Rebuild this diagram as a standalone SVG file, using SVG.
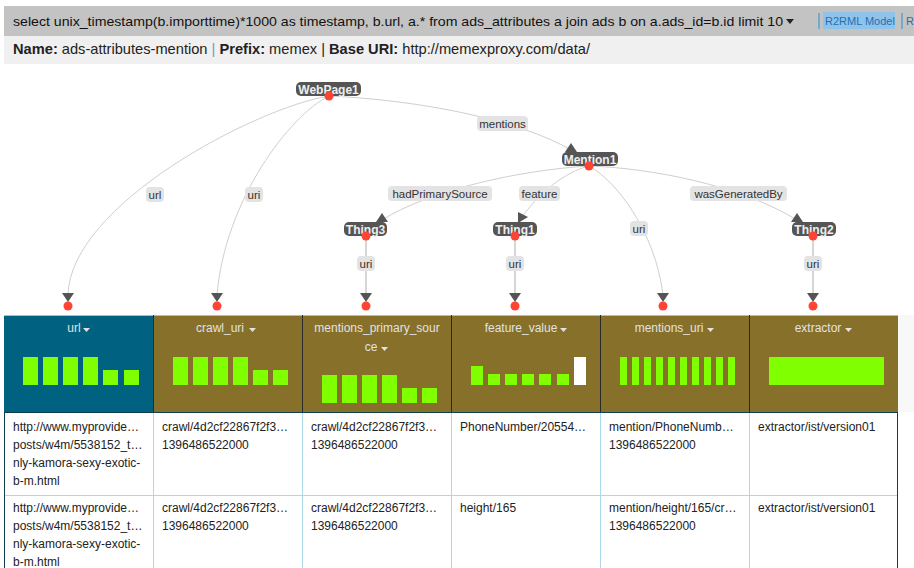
<svg xmlns="http://www.w3.org/2000/svg" width="914" height="568" viewBox="0 0 914 568">
<style>
text{font-family:"Liberation Sans",Arial,sans-serif}
.q{font-size:13px;fill:#111}
.nm{font-size:14.5px;fill:#222}
.b{font-weight:bold}
.node rect{fill:#555}
.node text{font-size:12px;font-weight:bold;fill:#eee;text-anchor:middle}
.dot{fill:#ff4433}
.link{fill:none;stroke:#cfcfcf;stroke-width:1}
.vlink{fill:none;stroke:#d6d6d6;stroke-width:2}
.arr{fill:#555}
.el rect{fill:#e3e3e3}
.el text{font-size:11.5px;fill:#333;text-anchor:middle}
.hd text{font-size:12px;fill:#e2e2e2;text-anchor:middle}
.caret{fill:#e2e2e2}
.bar{fill:#80ff00}
.cell{font-size:12px;fill:#222}
</style>
<rect width="914" height="568" fill="#fff"/>
<g id="topbar">
<rect x="4" y="6" width="910" height="30" fill="#c3c3c3"/>
<rect x="4" y="36" width="910" height="28" fill="#f0f0f0"/>
<text class="q" x="13" y="26" textLength="770" lengthAdjust="spacingAndGlyphs">select unix_timestamp(b.importtime)*1000 as timestamp, b.url, a.* from ads_attributes a join ads b on a.ads_id=b.id limit 10</text>
<polygon points="786,19 794,19 790,24" fill="#222"/>
<line x1="819" y1="13" x2="819" y2="29" stroke="#2a8fd0" stroke-width="1"/>
<rect x="823" y="12" width="72" height="17" fill="#8fc3ea"/>
<text x="825" y="25" font-size="11px" fill="#1f6fb5">R2RML Model</text>
<line x1="902" y1="13" x2="902" y2="29" stroke="#2a8fd0" stroke-width="1"/>
<text x="906" y="25" font-size="11px" fill="#1f6fb5">R</text>
<text class="nm" x="13" y="54" textLength="577" lengthAdjust="spacingAndGlyphs"><tspan class="b">Name:</tspan> ads-attributes-mention <tspan fill="#6a9fc8">|</tspan> <tspan class="b">Prefix:</tspan> memex | <tspan class="b">Base URI:</tspan> http://memexproxy.com/data/</text>
</g>
<g id="connectors">
<path class="link" d="M329,96 C255,108 70,205 68,295"/>
<path class="link" d="M329,96 C290,115 225,200 217,295"/>
<path class="link" d="M329,96 C420,100 520,120 571,150"/>
<path class="link" d="M589,166 C520,170 430,190 382,220"/>
<path class="link" d="M589,166 C565,172 540,192 522,217"/>
<path class="link" d="M589,166 C615,180 655,230 663,295"/>
<path class="link" d="M589,166 C650,168 740,185 797,220"/>
<line class="vlink" x1="366" y1="236" x2="366" y2="295"/>
<line class="vlink" x1="515" y1="236" x2="515" y2="295"/>
<line class="vlink" x1="813" y1="236" x2="813" y2="295"/>
<polygon class="arr" points="571,143 577,152 565,152"/>
<polygon class="arr" points="382,213 388,222 376,222"/>
<polygon class="arr" points="797,213 803,222 791,222"/>
<polygon class="arr" points="528,217 518,212 518,223"/>
<polygon class="arr" points="62,293 74,293 68,302"/>
<polygon class="arr" points="211,293 223,293 217,302"/>
<polygon class="arr" points="360,293 372,293 366,302"/>
<polygon class="arr" points="509,293 521,293 515,302"/>
<polygon class="arr" points="657,293 669,293 663,302"/>
<polygon class="arr" points="807,293 819,293 813,302"/>
<circle class="dot" cx="68" cy="306" r="4.5"/>
<circle class="dot" cx="217" cy="306" r="4.5"/>
<circle class="dot" cx="366" cy="306" r="4.5"/>
<circle class="dot" cx="515" cy="306" r="4.5"/>
<circle class="dot" cx="663" cy="306" r="4.5"/>
<circle class="dot" cx="813" cy="306" r="4.5"/>
<g class="el">
<rect x="477" y="116" width="51" height="15" rx="4"/><text x="502.5" y="127.5">mentions</text>
<rect x="388" y="186" width="104" height="15" rx="4"/><text x="440" y="197.5">hadPrimarySource</text>
<rect x="519" y="186" width="41" height="15" rx="4"/><text x="539.5" y="197.5">feature</text>
<rect x="690" y="186" width="97" height="15" rx="4"/><text x="738.5" y="197.5">wasGeneratedBy</text>
<rect x="146" y="187" width="18" height="15" rx="4"/><text x="155" y="198.5">url</text>
<rect x="245" y="187" width="18" height="15" rx="4"/><text x="254" y="198.5">uri</text>
<rect x="630" y="221" width="18" height="15" rx="4"/><text x="639" y="232.5">uri</text>
<rect x="357" y="256" width="18" height="15" rx="4"/><text x="366" y="267.5">uri</text>
<rect x="506" y="256" width="18" height="15" rx="4"/><text x="515" y="267.5">uri</text>
<rect x="804" y="256" width="18" height="15" rx="4"/><text x="813" y="267.5">uri</text>
</g>
</g>
<g id="WebPage1" class="node"><rect x="296" y="82" width="65" height="14" rx="5"/><text x="328.5" y="93.5">WebPage1</text><circle class="dot" cx="329" cy="96" r="4.5"/></g>
<g id="Mention1" class="node"><rect x="562" y="152" width="56" height="14" rx="5"/><text x="590" y="163.5">Mention1</text><circle class="dot" cx="589" cy="166" r="4.5"/></g>
<g id="Thing3" class="node"><rect x="344" y="222" width="43" height="14" rx="5"/><text x="365.5" y="233.5">Thing3</text><circle class="dot" cx="366" cy="236" r="4.5"/></g>
<g id="Thing1" class="node"><rect x="493" y="222" width="44" height="14" rx="5"/><text x="515" y="233.5">Thing1</text><circle class="dot" cx="515" cy="236" r="4.5"/></g>
<g id="Thing2" class="node"><rect x="792" y="222" width="44" height="14" rx="5"/><text x="814" y="233.5">Thing2</text><circle class="dot" cx="813" cy="236" r="4.5"/></g>
<g id="table">
<rect x="4" y="315" width="149" height="97" fill="#006280"/>
<rect x="153" y="315" width="745" height="97" fill="#86702a"/>
<rect x="898" y="315" width="16" height="97" fill="#f8f8f8"/>
<line x1="4" y1="315.5" x2="898" y2="315.5" stroke="#8ccbe0"/>
<g stroke="#2a2a2a" stroke-width="1">
<line x1="153.5" y1="315" x2="153.5" y2="412"/>
<line x1="302.5" y1="315" x2="302.5" y2="412"/>
<line x1="451.5" y1="315" x2="451.5" y2="412"/>
<line x1="600.5" y1="315" x2="600.5" y2="412"/>
<line x1="749.5" y1="315" x2="749.5" y2="412"/>
</g>
<g class="hd">
<text x="74" y="332">url</text><polygon class="caret" points="83,328 90,328 86.5,332"/>
<text x="220" y="332">crawl_uri</text><polygon class="caret" points="249,328 256,328 252.5,332"/>
<text x="377" y="332">mentions_primary_sour</text>
<text x="371" y="351">ce</text><polygon class="caret" points="381,347 388,347 384.5,351"/>
<text x="521" y="332">feature_value</text><polygon class="caret" points="560,328 567,328 563.5,332"/>
<text x="669" y="332">mentions_uri</text><polygon class="caret" points="707,328 714,328 710.5,332"/>
<text x="818" y="332">extractor</text><polygon class="caret" points="845,328 852,328 848.5,332"/>
</g>
<g class="bar">
<rect x="23" y="357" width="15" height="28"/><rect x="43" y="357" width="15" height="28"/><rect x="63" y="357" width="15" height="28"/><rect x="83" y="357" width="15" height="28"/><rect x="103" y="370" width="15" height="15"/><rect x="124" y="370" width="15" height="15"/>
<rect x="173" y="357" width="15" height="28"/><rect x="193" y="357" width="15" height="28"/><rect x="213" y="357" width="15" height="28"/><rect x="233" y="357" width="15" height="28"/><rect x="253" y="370" width="15" height="15"/><rect x="273" y="370" width="15" height="15"/>
<rect x="322" y="375" width="15" height="28"/><rect x="342" y="375" width="15" height="28"/><rect x="362" y="375" width="15" height="28"/><rect x="382" y="375" width="15" height="28"/><rect x="402" y="388" width="15" height="15"/><rect x="422" y="388" width="15" height="15"/>
<rect x="471" y="366" width="12" height="19"/><rect x="488" y="374" width="12" height="11"/><rect x="505" y="374" width="12" height="11"/><rect x="522" y="374" width="12" height="11"/><rect x="539" y="374" width="12" height="11"/><rect x="557" y="374" width="12" height="11"/>
<rect x="620" y="357" width="7" height="28"/><rect x="632" y="357" width="7" height="28"/><rect x="644" y="357" width="7" height="28"/><rect x="656" y="357" width="7" height="28"/><rect x="668" y="357" width="7" height="28"/><rect x="680" y="357" width="7" height="28"/><rect x="692" y="357" width="7" height="28"/><rect x="704" y="357" width="7" height="28"/><rect x="716" y="357" width="7" height="28"/><rect x="728" y="357" width="7" height="28"/>
<rect x="769" y="357" width="115" height="28"/>
</g>
<rect x="574" y="357" width="12" height="28" fill="#fff"/>
<g stroke="#a9d9ea" stroke-width="1">
<line x1="4" y1="495.5" x2="898" y2="495.5"/>
<line x1="153.5" y1="413" x2="153.5" y2="568"/>
<line x1="302.5" y1="413" x2="302.5" y2="568"/>
<line x1="451.5" y1="413" x2="451.5" y2="568"/>
<line x1="600.5" y1="413" x2="600.5" y2="568"/>
<line x1="749.5" y1="413" x2="749.5" y2="568"/>
</g>
<g stroke="#123f4f" stroke-width="1">
<line x1="4" y1="412.5" x2="898" y2="412.5"/>
<line x1="4.5" y1="412" x2="4.5" y2="568"/>
<line x1="897.5" y1="412" x2="897.5" y2="568"/>
</g>
<g class="cell">
<text x="13" y="431">http://www.myprovide…</text>
<text x="13" y="449">posts/w4m/5538152_t…</text>
<text x="13" y="467">nly-kamora-sexy-exotic-</text>
<text x="13" y="485">b-m.html</text>
<text x="162" y="431">crawl/4d2cf22867f2f3…</text>
<text x="162" y="449">1396486522000</text>
<text x="311" y="431">crawl/4d2cf22867f2f3…</text>
<text x="311" y="449">1396486522000</text>
<text x="460" y="431">PhoneNumber/20554…</text>
<text x="609" y="431">mention/PhoneNumb…</text>
<text x="609" y="449">1396486522000</text>
<text x="758" y="431">extractor/ist/version01</text>
<text x="13" y="512">http://www.myprovide…</text>
<text x="13" y="530">posts/w4m/5538152_t…</text>
<text x="13" y="548">nly-kamora-sexy-exotic-</text>
<text x="13" y="566">b-m.html</text>
<text x="162" y="512">crawl/4d2cf22867f2f3…</text>
<text x="162" y="530">1396486522000</text>
<text x="311" y="512">crawl/4d2cf22867f2f3…</text>
<text x="311" y="530">1396486522000</text>
<text x="460" y="512">height/165</text>
<text x="609" y="512">mention/height/165/cr…</text>
<text x="609" y="530">1396486522000</text>
<text x="758" y="512">extractor/ist/version01</text>
</g>
</g>
</svg>
